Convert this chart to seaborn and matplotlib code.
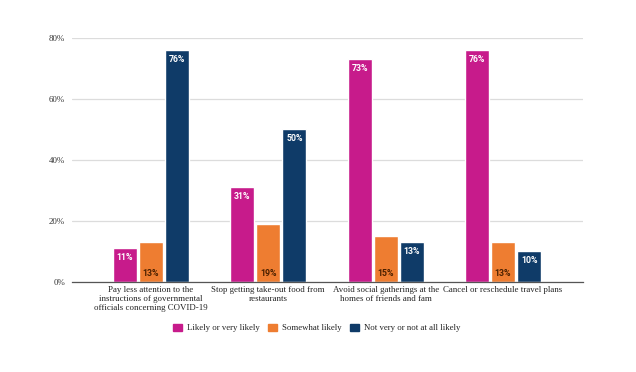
import matplotlib
matplotlib.use("Agg")
import matplotlib.pyplot as plt
import pandas as pd
import seaborn as sns

CATEGORIES = [
    "Pay less attention to the\ninstructions of governmental\nofficials concerning COVID-19",
    "Stop getting take-out food from\nrestaurants",
    "Avoid social gatherings at the\nhomes of friends and fam",
    "Cancel or reschedule travel plans",
]
SERIES = ["Likely or very likely", "Somewhat likely", "Not very or not at all likely"]
LIKELY = [11, 31, 73, 76]
SOMEWHAT = [13, 19, 15, 13]
NOT_LIKELY = [76, 50, 13, 10]
COLORS = ["#C71B8B", "#EE7D31", "#0F3B68"]
Y_TICKS = [0, 20, 40, 60, 80]

SERIF = "Liberation Serif"
SANS = "Roboto"

sns.set_style("white")

rows = []
for name, vals in zip(SERIES, [LIKELY, SOMEWHAT, NOT_LIKELY]):
    for cat, v in zip(CATEGORIES, vals):
        rows.append({"category": cat, "series": name, "value": v})
df = pd.DataFrame(rows)

fig = plt.figure(figsize=(6.36, 3.72), dpi=100)
ax = fig.add_axes([0.113, 0.242, 0.804, 0.656])

sns.barplot(
    data=df, x="category", y="value", hue="series",
    hue_order=SERIES, order=CATEGORIES, palette=COLORS,
    width=0.667, gap=0.08, saturation=1, ax=ax, legend=False,
)

ax.set_ylim(0, 80)
ax.set_xlim(-0.673, 3.683)
ax.set_yticks(Y_TICKS)
ax.set_yticklabels([f"{t}%" for t in Y_TICKS], family=SERIF, fontsize=6.4, color="#333333")
ax.set_xticks(range(len(CATEGORIES)))
ax.set_xticklabels(CATEGORIES, family=SERIF, fontsize=6.4, color="#222222", linespacing=1.15)
ax.tick_params(axis="y", length=0, pad=5)
ax.tick_params(axis="x", length=0, pad=3)
ax.set_xlabel("")
ax.set_ylabel("")
ax.grid(axis="y", color="#dcdcdc", lw=0.9)
ax.set_axisbelow(True)
for s in ["top", "right", "left"]:
    ax.spines[s].set_visible(False)
ax.spines["bottom"].set_color("#555555")
ax.spines["bottom"].set_linewidth(0.9)

for i, cont in enumerate(ax.containers):
    for patch in cont:
        h = patch.get_height()
        xc = patch.get_x() + patch.get_width() / 2
        if i == 1:
            ax.annotate(f"{h:.0f}%", (xc, 0), xytext=(0, 3), textcoords="offset points",
                        ha="center", va="bottom", fontsize=6.3, fontweight="bold",
                        family=SANS, color="#4a2000")
        else:
            ax.annotate(f"{h:.0f}%", (xc, h), xytext=(0, -3.5), textcoords="offset points",
                        ha="center", va="top", fontsize=6.3, fontweight="bold",
                        family=SANS, color="white")

handles = [plt.Rectangle((0, 0), 1, 1, color=c) for c in COLORS]
leg = fig.legend(handles, SERIES, loc="center", bbox_to_anchor=(0.498, 0.118), ncol=3,
                 frameon=False, prop={"family": SERIF, "size": 6.3},
                 handlelength=0.95, handleheight=0.95, handletextpad=0.6, columnspacing=1.0)
for t in leg.get_texts():
    t.set_color("#222222")

fig.savefig("out.png", dpi=100)
